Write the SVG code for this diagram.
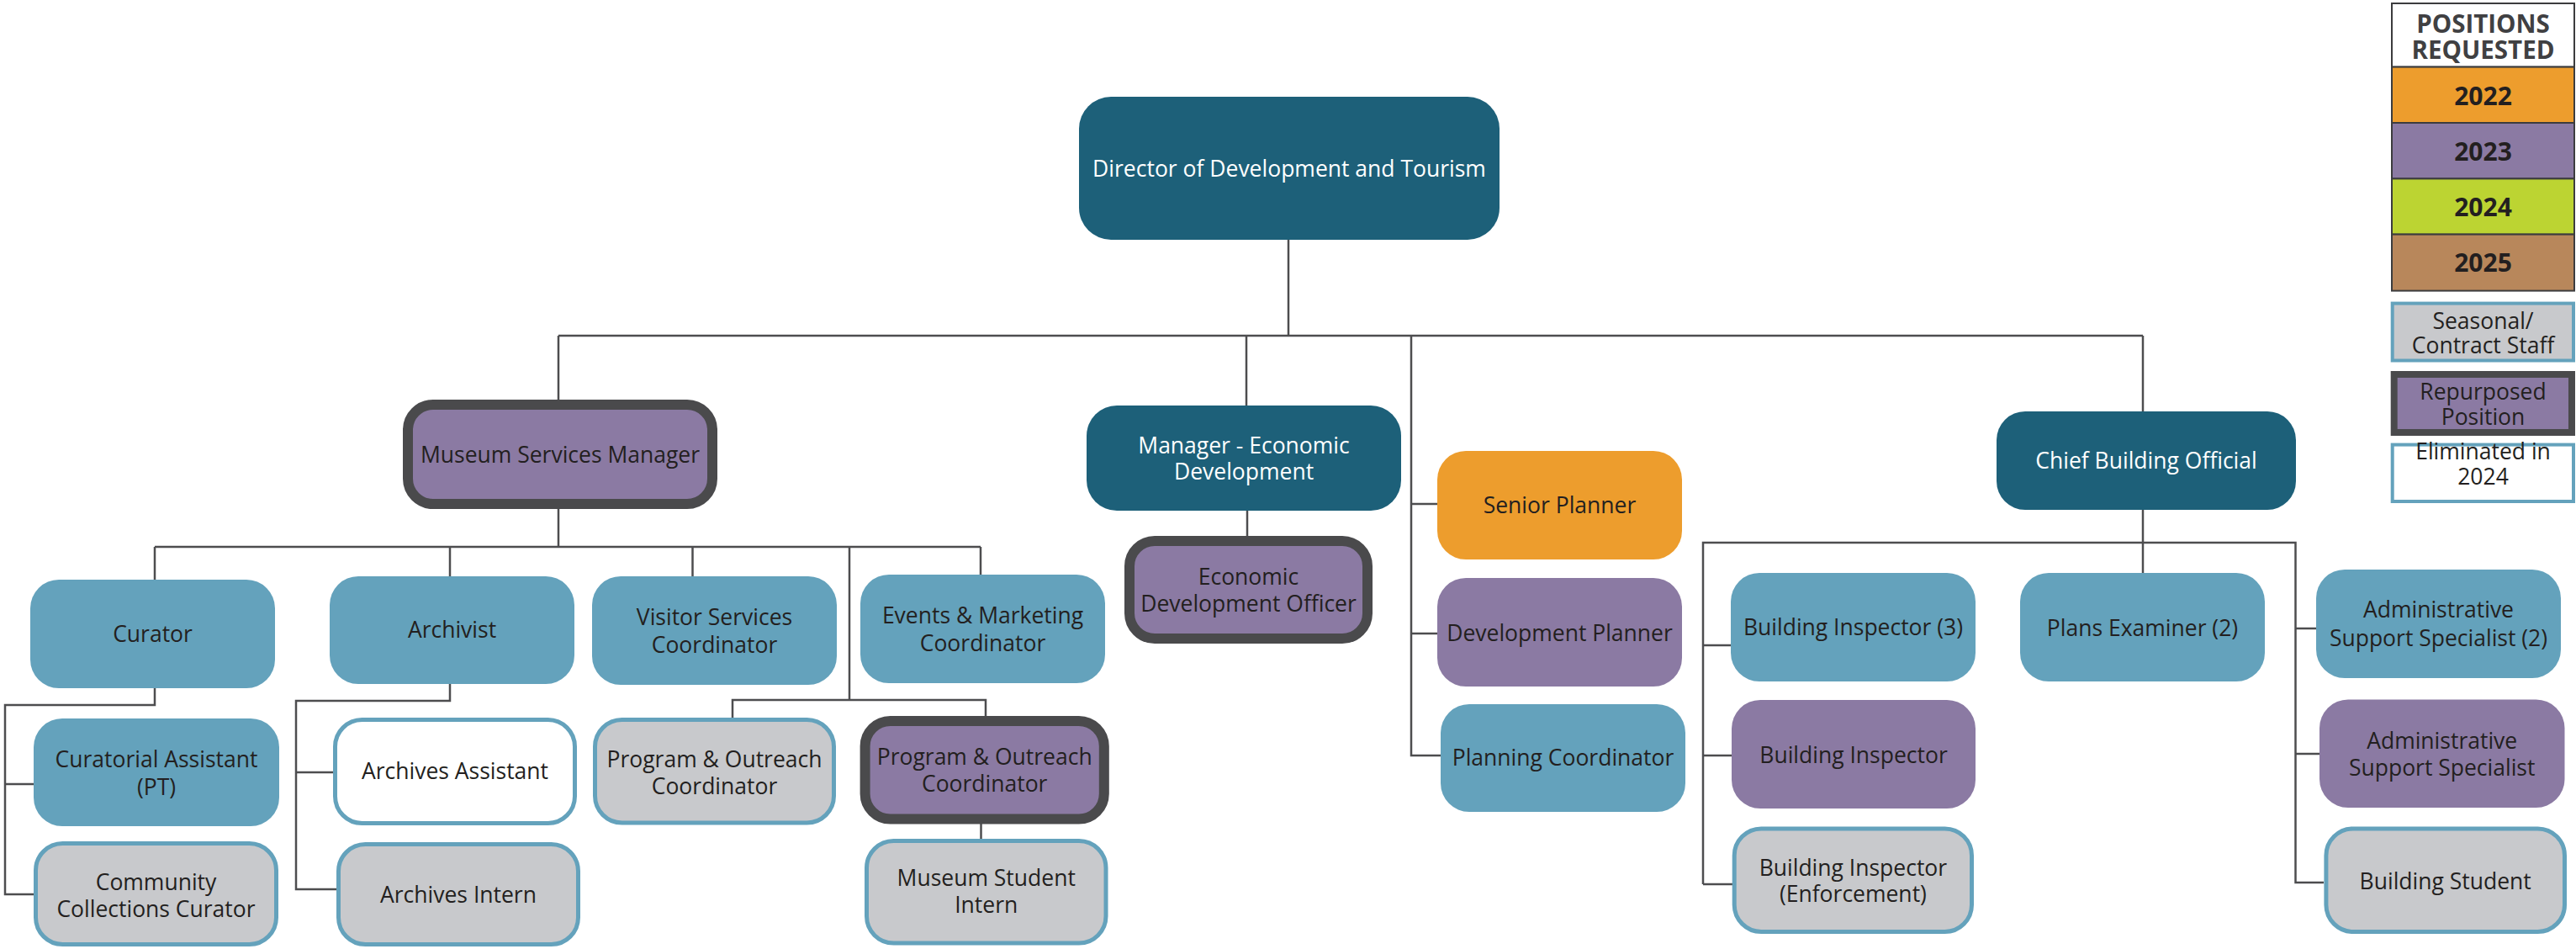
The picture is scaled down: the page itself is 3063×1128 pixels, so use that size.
<svg xmlns="http://www.w3.org/2000/svg" width="3063" height="1128" viewBox="0 0 3063 1128">
  <style>
    .teal{fill:#1d6079}
    .blue{fill:#64a2bc}
    .purple{fill:#8b7aa3}
    .orange{fill:#ed9d2d}
    .seasonal{fill:#c8c9cc;stroke:#64a2bc;stroke-width:5}
    .elim{fill:#ffffff;stroke:#64a2bc;stroke-width:5}
    .repurposed{fill:#8b7aa3;stroke:#4a4a4c;stroke-width:12}
    text{font-family:"Open Sans","Noto Sans","DejaVu Sans",sans-serif;font-size:26.5px;fill:#231f20;text-anchor:middle}
    text.light{fill:#ffffff}
    .conn{fill:none;stroke:#4d4d4f;stroke-width:2.5}
    .key{stroke:#3c3c3e;stroke-width:2}
    .keyhead{font-weight:700;font-size:29.5px;fill:#404042}
    .keyyear{font-weight:700;font-size:30px}
  </style>

  <!-- reporting lines -->
  <g id="connectors" class="conn">
    <path d="M1532 285 V399"/>
    <path d="M664 399 H2548"/>
    <path d="M664 399 V475"/>
    <path d="M1482 399 V482"/>
    <path d="M2548 399 V489"/>
    <path d="M1678 399 V898 H1713"/>
    <path d="M1678 599 H1709"/>
    <path d="M1678 753 H1709"/>

    <!-- museum services -->
    <path d="M664 605 V650"/>
    <path d="M184 650 H1166"/>
    <path d="M184 650 V689"/>
    <path d="M535 650 V685"/>
    <path d="M823.5 650 V685"/>
    <path d="M1166 650 V683"/>
    <path d="M1010 650 V832"/>
    <path d="M871 853 V832 H1172 V851"/>
    <path d="M184 818 V838 H6 V1063 H40"/>
    <path d="M6 932 H40"/>
    <path d="M535 813 V833 H352 V1057 H400"/>
    <path d="M352 918 H396"/>
    <path d="M1166.5 979 V997"/>

    <!-- economic development -->
    <path d="M1483 607 V637"/>

    <!-- building -->
    <path d="M2548 606 V681"/>
    <path d="M2025 1051 V645 H2729.5 V1049 H2763"/>
    <path d="M2025 767 H2058"/>
    <path d="M2025 898 H2059"/>
    <path d="M2025 1051 H2060"/>
    <path d="M2729.5 747 H2754"/>
    <path d="M2729.5 896 H2758"/>
  </g>

  <g id="director">
    <rect class="teal" x="1283" y="115" width="500" height="170" rx="38"/>
    <text class="light" x="1533" y="210">Director of Development and Tourism</text>
  </g>

  <!-- museum services -->
  <g id="museum-services-manager">
    <rect class="repurposed" x="485" y="481" width="362" height="118" rx="30"/>
    <text x="666" y="550">Museum Services Manager</text>
  </g>
  <g id="curator">
    <rect class="blue" x="36" y="689" width="291" height="129" rx="34"/>
    <text x="181.5" y="762.5">Curator</text>
  </g>
  <g id="archivist">
    <rect class="blue" x="392" y="685" width="291" height="128" rx="34"/>
    <text x="537.5" y="758">Archivist</text>
  </g>
  <g id="visitor-services-coordinator">
    <rect class="blue" x="704" y="685" width="291" height="129" rx="34"/>
    <text x="849.5" y="743">Visitor Services</text>
    <text x="849.5" y="776">Coordinator</text>
  </g>
  <g id="events-marketing-coordinator">
    <rect class="blue" x="1023" y="683" width="291" height="129" rx="34"/>
    <text x="1168.5" y="741">Events &amp; Marketing</text>
    <text x="1168.5" y="774">Coordinator</text>
  </g>
  <g id="curatorial-assistant">
    <rect class="blue" x="40" y="854" width="292" height="128" rx="34"/>
    <text x="186" y="912">Curatorial Assistant</text>
    <text x="186" y="945">(PT)</text>
  </g>
  <g id="community-collections-curator">
    <rect class="seasonal" x="42.5" y="1002.5" width="286" height="120" rx="32"/>
    <text x="185.5" y="1057.5">Community</text>
    <text x="185.5" y="1089.5">Collections Curator</text>
  </g>
  <g id="archives-assistant">
    <rect class="elim" x="398.5" y="855.5" width="285" height="123" rx="32"/>
    <text x="541" y="926">Archives Assistant</text>
  </g>
  <g id="archives-intern">
    <rect class="seasonal" x="402.5" y="1003.5" width="285" height="119" rx="32"/>
    <text x="545" y="1073">Archives Intern</text>
  </g>
  <g id="program-outreach-coordinator-seasonal">
    <rect class="seasonal" x="707.5" y="855.5" width="284" height="122.5" rx="32"/>
    <text x="849.5" y="911.5">Program &amp; Outreach</text>
    <text x="849.5" y="943.5">Coordinator</text>
  </g>
  <g id="program-outreach-coordinator">
    <rect class="repurposed" x="1028.6" y="857" width="284.2" height="116.5" rx="30"/>
    <text x="1170.7" y="909">Program &amp; Outreach</text>
    <text x="1170.7" y="941">Coordinator</text>
  </g>
  <g id="museum-student-intern">
    <rect class="seasonal" x="1030.5" y="999.5" width="284.5" height="121.6" rx="32"/>
    <text x="1172.7" y="1053">Museum Student</text>
    <text x="1172.7" y="1085">Intern</text>
  </g>

  <!-- economic development -->
  <g id="manager-economic-development">
    <rect class="teal" x="1292" y="482" width="374" height="125" rx="36"/>
    <text class="light" x="1479" y="538.5">Manager - Economic</text>
    <text class="light" x="1479" y="570">Development</text>
  </g>
  <g id="economic-development-officer">
    <rect class="repurposed" x="1343" y="643" width="283" height="116" rx="30"/>
    <text x="1484.5" y="695">Economic</text>
    <text x="1484.5" y="727">Development Officer</text>
  </g>

  <!-- planning -->
  <g id="senior-planner">
    <rect class="orange" x="1709" y="536" width="291" height="129" rx="34"/>
    <text x="1854.5" y="610">Senior Planner</text>
  </g>
  <g id="development-planner">
    <rect class="purple" x="1709" y="687" width="291" height="129" rx="34"/>
    <text x="1854.5" y="761.5">Development Planner</text>
  </g>
  <g id="planning-coordinator">
    <rect class="blue" x="1713" y="837" width="291" height="128" rx="34"/>
    <text x="1858.5" y="910">Planning Coordinator</text>
  </g>

  <!-- building -->
  <g id="chief-building-official">
    <rect class="teal" x="2374" y="489" width="356" height="117" rx="34"/>
    <text class="light" x="2552" y="557">Chief Building Official</text>
  </g>
  <g id="building-inspector-3">
    <rect class="blue" x="2058" y="681" width="291" height="129" rx="34"/>
    <text x="2203.5" y="755">Building Inspector (3)</text>
  </g>
  <g id="plans-examiner">
    <rect class="blue" x="2402" y="681" width="291" height="129" rx="34"/>
    <text x="2547.5" y="755.5">Plans Examiner (2)</text>
  </g>
  <g id="administrative-support-specialist-2">
    <rect class="blue" x="2754" y="677" width="291" height="129" rx="34"/>
    <text x="2899.5" y="733.5">Administrative</text>
    <text x="2899.5" y="767.5">Support Specialist (2)</text>
  </g>
  <g id="building-inspector">
    <rect class="purple" x="2059" y="832" width="290" height="129" rx="34"/>
    <text x="2204" y="907">Building Inspector</text>
  </g>
  <g id="administrative-support-specialist">
    <rect class="purple" x="2758" y="831.5" width="291.5" height="128.5" rx="34"/>
    <text x="2903.7" y="890">Administrative</text>
    <text x="2903.7" y="921.5">Support Specialist</text>
  </g>
  <g id="building-inspector-enforcement">
    <rect class="seasonal" x="2062.2" y="984.9" width="282.3" height="122.6" rx="32"/>
    <text x="2203.4" y="1040.5">Building Inspector</text>
    <text x="2203.4" y="1071.5">(Enforcement)</text>
  </g>
  <g id="building-student">
    <rect class="seasonal" x="2765.9" y="984.9" width="283.6" height="122.6" rx="32"/>
    <text x="2907.7" y="1056.5">Building Student</text>
  </g>

  <!-- key -->
  <g id="legend">
    <rect class="key" x="2844" y="4" width="217" height="75.6" fill="#ffffff"/>
    <text class="keyhead" x="2952.5" y="38.5">POSITIONS</text>
    <text class="keyhead" x="2952.5" y="70">REQUESTED</text>
    <rect class="key" x="2844" y="79.6" width="217" height="66.4" fill="#ed9d2d"/>
    <text class="keyyear" x="2952.5" y="124.5">2022</text>
    <rect class="key" x="2844" y="146" width="217" height="66.4" fill="#8b7aa3"/>
    <text class="keyyear" x="2952.5" y="190.5">2023</text>
    <rect class="key" x="2844" y="212.4" width="217" height="66.2" fill="#bcd432"/>
    <text class="keyyear" x="2952.5" y="256.5">2024</text>
    <rect class="key" x="2844" y="278.6" width="217" height="67" fill="#b8875b"/>
    <text class="keyyear" x="2952.5" y="323">2025</text>
    <rect class="seasonal" x="2844.7" y="360.6" width="215.3" height="67.9" style="stroke-width:4"/>
    <text x="2952.5" y="390.5">Seasonal/</text>
    <text x="2952.5" y="419.5">Contract Staff</text>
    <rect class="repurposed" x="2846.7" y="445" width="211.3" height="69" style="stroke-width:8"/>
    <text x="2952.5" y="474.5">Repurposed</text>
    <text x="2952.5" y="504.5">Position</text>
    <rect class="elim" x="2844.7" y="528.6" width="215.3" height="67.4" style="stroke-width:4"/>
    <text x="2952.5" y="545.5">Eliminated in</text>
    <text x="2952.5" y="575.5">2024</text>
  </g>
</svg>
